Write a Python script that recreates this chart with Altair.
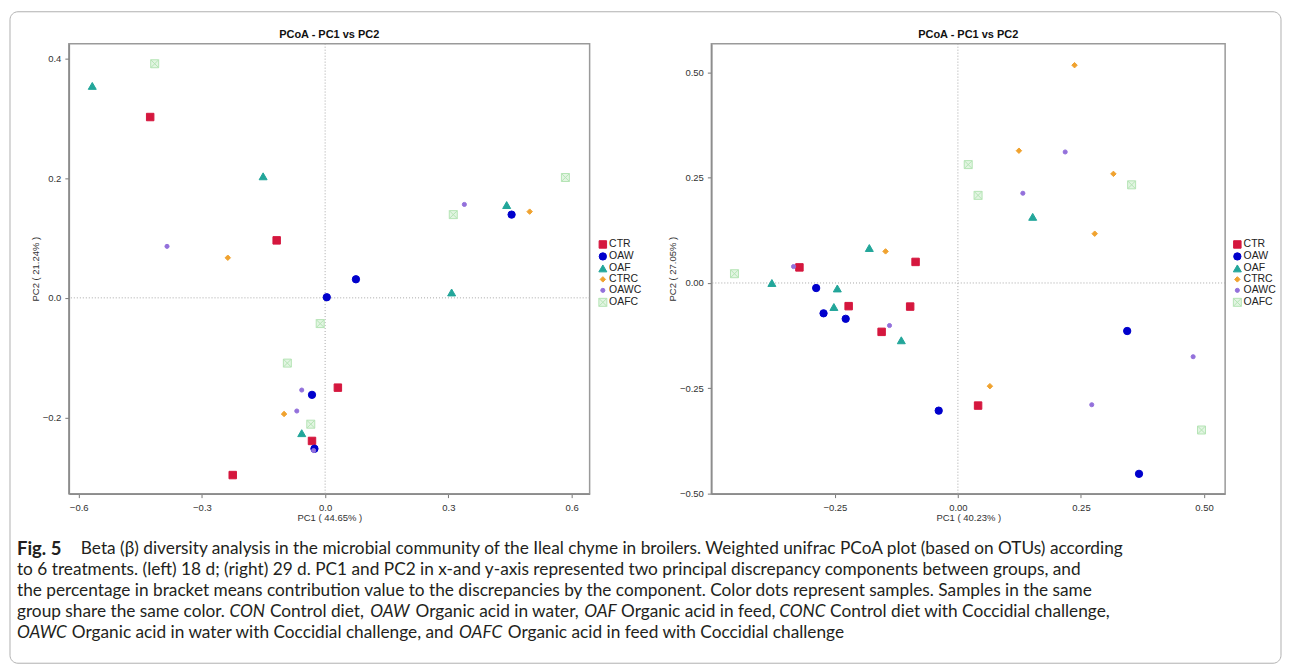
import altair as alt
import pandas as pd

groups = ["CTR", "OAW", "OAF", "CTRC", "OAWC", "OAFC"]
fill_colors = ["#D5173E", "#0000CC", "#22A69A", "#F0A22E", "#9370DB", "#E2F5E2"]
stroke_colors = ["#D5173E", "#0000CC", "#22A69A", "#F0A22E", "#9370DB", "#B5E4B5"]
square_x = "M-1,-1H1V1H-1Z M-1,-1L1,1 M-1,1L1,-1"
shapes = ["square", "circle", "triangle-up", "diamond", "circle", square_x]
sizes = [56, 54, 64, 30, 17, 64]

# ---- left panel (18 d) ----
l_ctr_x = [-0.426, -0.118, 0.031, -0.032, -0.225]
l_ctr_y = [0.302, 0.096, -0.150, -0.239, -0.296]
l_oaw_x = [0.004, 0.075, 0.454, -0.032, -0.026]
l_oaw_y = [0.001, 0.031, 0.139, -0.162, -0.252]
l_oaf_x = [-0.567, -0.151, 0.442, 0.308, -0.057]
l_oaf_y = [0.354, 0.203, 0.155, 0.009, -0.226]
l_ctrc_x = [-0.237, 0.498, -0.100]
l_ctrc_y = [0.067, 0.144, -0.194]
l_oawc_x = [-0.385, 0.339, -0.057, -0.069, -0.028]
l_oawc_y = [0.086, 0.156, -0.154, -0.189, -0.255]
l_oafc_x = [-0.415, 0.312, 0.585, -0.012, -0.092, -0.035]
l_oafc_y = [0.391, 0.139, 0.201, -0.043, -0.109, -0.211]

# ---- right panel (29 d) ----
r_ctr_x = [-0.322, -0.086, -0.222, -0.097, -0.155, 0.041]
r_ctr_y = [0.037, 0.050, -0.055, -0.056, -0.116, -0.291]
r_oaw_x = [-0.288, -0.273, -0.228, -0.039, 0.344, 0.368]
r_oaw_y = [-0.012, -0.072, -0.085, -0.303, -0.114, -0.453]
r_oaf_x = [-0.378, -0.245, -0.180, -0.252, -0.115, 0.152]
r_oaf_y = [0.000, -0.013, 0.083, -0.057, -0.136, 0.157]
r_ctrc_x = [-0.147, 0.237, 0.124, 0.316, 0.278, 0.065]
r_ctrc_y = [0.075, 0.517, 0.314, 0.259, 0.117, -0.245]
r_oawc_x = [-0.334, -0.139, 0.218, 0.132, 0.478, 0.272]
r_oawc_y = [0.039, -0.101, 0.311, 0.213, -0.175, -0.289]
r_oafc_x = [-0.454, 0.021, 0.353, 0.041, 0.495]
r_oafc_y = [0.022, 0.281, 0.233, 0.208, -0.349]

left_xticks = [-0.6, -0.3, 0.0, 0.3, 0.6]
left_yticks = [-0.2, 0.0, 0.2, 0.4]
right_xticks = [-0.25, 0.0, 0.25, 0.50]
right_yticks = [-0.50, -0.25, 0.0, 0.25, 0.50]

panel_title = "PCoA - PC1 vs PC2"
left_xtitle, left_ytitle = "PC1 ( 44.65% )", "PC2 ( 21.24% )"
right_xtitle, right_ytitle = "PC1 ( 40.23% )", "PC2 ( 27.05% )"

caption_l1_bold = "Fig. 5"
caption_l1 = ("Beta (\u03b2) diversity analysis in the microbial community of the Ileal chyme in broilers. "
              "Weighted unifrac PCoA plot (based on OTUs) according")
caption_l2 = ("to 6 treatments. (left) 18 d; (right) 29 d. PC1 and PC2 in x-and y-axis represented two "
              "principal discrepancy components between groups, and")
caption_l3 = ("the percentage in bracket means contribution value to the discrepancies by the component. "
              "Color dots represent samples. Samples in the same")
caption_l4 = ["group share the same color.", "CON", "Control diet,", "OAW", "Organic acid in water,",
              "OAF", "Organic acid in feed,", "CONC", "Control diet with Coccidial challenge,"]
caption_l5 = ["OAWC", "Organic acid in water with Coccidial challenge, and", "OAFC",
              "Organic acid in feed with Coccidial challenge"]


def make_df(xs_list, ys_list):
    rows = []
    for g, xs, ys in zip(groups, xs_list, ys_list):
        for a, b in zip(xs, ys):
            rows.append({"group": g, "pc1": a, "pc2": b})
    return pd.DataFrame(rows)


left_df = make_df([l_ctr_x, l_oaw_x, l_oaf_x, l_ctrc_x, l_oawc_x, l_oafc_x],
                  [l_ctr_y, l_oaw_y, l_oaf_y, l_ctrc_y, l_oawc_y, l_oafc_y])
right_df = make_df([r_ctr_x, r_oaw_x, r_oaf_x, r_ctrc_x, r_oawc_x, r_oafc_x],
                   [r_ctr_y, r_oaw_y, r_oaf_y, r_ctrc_y, r_oawc_y, r_oafc_y])


def panel(df, xdom, ydom, xticks, yticks, fmt, xtitle, ytitle, w, h, legx, legy):
    xs = alt.Scale(domain=xdom, nice=False, zero=False)
    ys = alt.Scale(domain=ydom, nice=False, zero=False)
    xax = alt.Axis(values=xticks, format=fmt, title=xtitle, labelPadding=5, titlePadding=0)
    yax = alt.Axis(values=yticks, format=fmt, title=ytitle, labelPadding=4, titlePadding=2)
    leg = alt.Legend(title=None, orient="none", legendX=legx, legendY=legy)
    zero_df = pd.DataFrame({"pc1": [0.0], "pc2": [0.0]})
    vrule = alt.Chart(zero_df).mark_rule(color="#a8a8a8", strokeDash=[1, 2], strokeWidth=1).encode(
        x=alt.X("pc1:Q", scale=xs, axis=xax))
    hrule = alt.Chart(zero_df).mark_rule(color="#a8a8a8", strokeDash=[1, 2], strokeWidth=1).encode(
        y=alt.Y("pc2:Q", scale=ys, axis=yax))
    pts = alt.Chart(df).mark_point(filled=True, opacity=1, strokeWidth=1).encode(
        x=alt.X("pc1:Q", scale=xs, axis=xax),
        y=alt.Y("pc2:Q", scale=ys, axis=yax),
        fill=alt.Fill("group:N", scale=alt.Scale(domain=groups, range=fill_colors), legend=leg),
        stroke=alt.Stroke("group:N", scale=alt.Scale(domain=groups, range=stroke_colors), legend=leg),
        shape=alt.Shape("group:N", scale=alt.Scale(domain=groups, range=shapes), legend=leg),
        size=alt.Size("group:N", scale=alt.Scale(type="ordinal", domain=groups, range=sizes), legend=leg),
    )
    return alt.layer(vrule, hrule, pts).properties(
        width=w, height=h,
        title=alt.TitleParams(panel_title, font="Liberation Sans", fontSize=11, fontWeight="bold",
                              color="#111", offset=3, anchor="middle"),
    )


left = panel(left_df, [-0.624, 0.644], [-0.327, 0.4245], left_xticks, left_yticks, ".1f",
             left_xtitle, left_ytitle, 522, 451, 530, 196)
right = panel(right_df, [-0.501, 0.543], [-0.50, 0.568], right_xticks, right_yticks, ".2f",
              right_xtitle, right_ytitle, 515, 451, 522, 196)

top = alt.hconcat(left, right, spacing=122, bounds="flush").resolve_scale(
    fill="independent", stroke="independent", shape="independent", size="independent")

dummy = pd.DataFrame({"k": [0]})
font = "Lato"
fs = 17.3
tcol = "#231f20"


def txt(s, x, y, bold=False, italic=False, size=fs):
    return alt.Chart(pd.DataFrame({"t": [s]})).mark_text(
        align="left", baseline="middle", font=font, fontSize=size, color=tcol,
        fontWeight="bold" if bold else "normal", fontStyle="italic" if italic else "normal",
    ).encode(x=alt.value(x), y=alt.value(y), text="t:N")


ly = [19, 40, 61, 82, 103]
layers = [
    txt(caption_l1_bold, -52, ly[0], bold=True, size=18.5),
    txt(caption_l1, 12, ly[0]),
    txt(caption_l2, -52, ly[1]),
    txt(caption_l3, -52, ly[2]),
]
l4_x = [-52, 161, 201.5, 302, 347.5, 516.5, 553.5, 712, 763]
for i, (s, x) in enumerate(zip(caption_l4, l4_x)):
    layers.append(txt(s, x, ly[3], italic=(i % 2 == 1)))
l5_x = [-52, 3, 391, 440]
for i, (s, x) in enumerate(zip(caption_l5, l5_x)):
    layers.append(txt(s, x, ly[4], italic=(i % 2 == 0)))

border = alt.Chart(dummy).mark_rect(fillOpacity=0, stroke="#b0b0b0", strokeWidth=1, cornerRadius=8).encode(
    x=alt.value(-59), x2=alt.value(1215), y=alt.value(-520), y2=alt.value(133))
layers.append(border)

caption = alt.layer(*layers).properties(width=1150, height=110,
                                         view=alt.ViewBackground(strokeOpacity=0))

chart = alt.vconcat(top, caption, spacing=488, bounds="flush").properties(
    padding={"left": 1, "top": 2, "right": 0, "bottom": 0}
).configure_view(stroke="#9a9a9a", strokeWidth=1.5).configure_axis(
    domainColor="#8c8c8c", domainWidth=1.5, tickColor="#777", tickSize=4, grid=False,
    labelFont="Liberation Sans", labelFontSize=9.5, labelColor="#333",
    titleFont="Liberation Sans", titleFontSize=9.5, titleFontWeight="normal", titleColor="#333",
).configure_legend(
    labelFont="Liberation Sans", labelFontSize=10.5, labelColor="#222", rowPadding=0,
    labelOffset=1, padding=0, symbolStrokeWidth=1,
)

chart.save("out.html", embed_options={"renderer": "svg", "actions": False})
